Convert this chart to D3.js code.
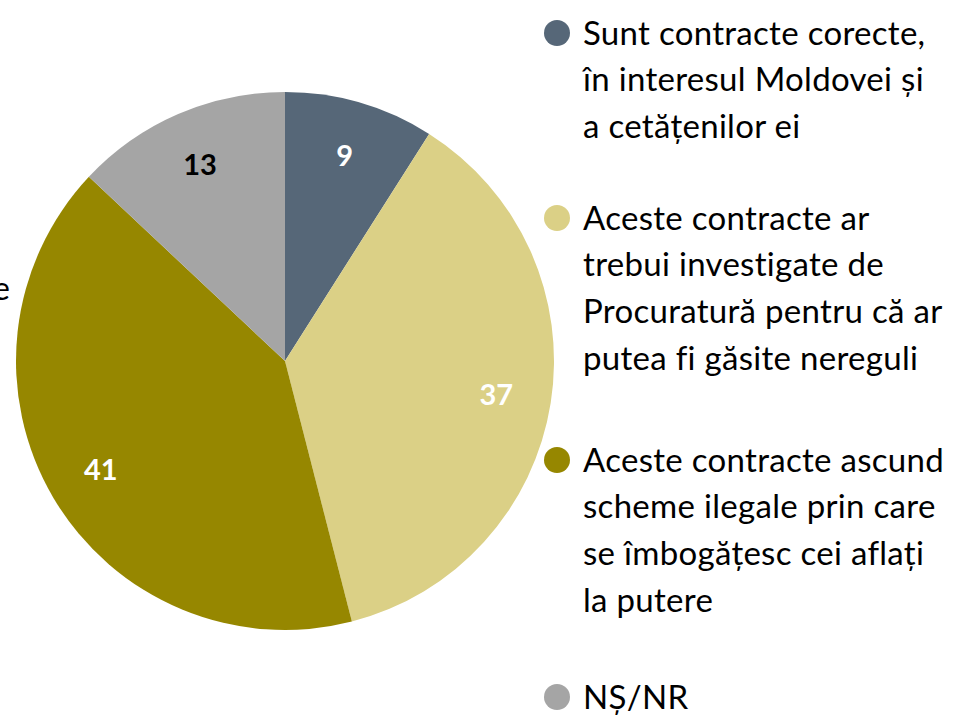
<!DOCTYPE html>
<html>
<head>
<meta charset="utf-8">
<script src="https://cdn.jsdelivr.net/npm/d3@7"></script>
<style>
  body { margin: 0; background: #fff; }
  svg { display: block; }
  text { font-family: Lato, "Open Sans", sans-serif; }
</style>
</head>
<body>
<div id="chart"></div>
<script>
// data
var categories = [
  "Sunt contracte corecte, în interesul Moldovei și a cetățenilor ei",
  "Aceste contracte ar trebui investigate de Procuratură pentru că ar putea fi găsite nereguli",
  "Aceste contracte ascund scheme ilegale prin care se îmbogățesc cei aflați la putere",
  "NȘ/NR"
];
var values = [9, 37, 41, 13];
var colors = ["#566778", "#dbd086", "#968700", "#a5a5a5"];
var labelColors = ["#fff", "#fff", "#fff", "#000"];
// legend text broken in lines as in the picture
var legendLines = [
  ["Sunt contracte corecte,", "în interesul Moldovei și", "a cetățenilor ei"],
  ["Aceste contracte ar", "trebui investigate de", "Procuratură pentru că ar", "putea fi găsite nereguli"],
  ["Aceste contracte ascund", "scheme ilegale prin care", "se îmbogățesc cei aflați", "la putere"],
  ["NȘ/NR"]
];
var legendTop = [33, 218, 460, 697];

var width = 959, height = 715;
var cx = 285, cy = 361, radius = 269;

var svg = d3.select("#chart")
  .append("svg")
    .attr("width", width)
    .attr("height", height);

// clipped label remnant on the left edge
svg.append("text")
  .attr("x", 10)
  .attr("y", 300)
  .attr("text-anchor", "end")
  .style("font-size", "32px")
  .style("fill", "#000")
  .text("e");

var pie = d3.pie()
  .sort(null)
  .value(function(d) { return d; });

var arc = d3.arc()
  .innerRadius(0)
  .outerRadius(radius);

var labelArc = d3.arc()
  .innerRadius(214)
  .outerRadius(214);

var g = svg.append("g")
  .attr("transform", "translate(" + cx + "," + cy + ")");

var arcs = pie(values);

g.selectAll("path")
  .data(arcs)
  .enter()
  .append("path")
    .attr("d", arc)
    .style("fill", function(d, i) { return colors[i]; });

g.selectAll("text.val")
  .data(arcs)
  .enter()
  .append("text")
    .attr("class", "val")
    .attr("transform", function(d) { return "translate(" + labelArc.centroid(d) + ")"; })
    .attr("text-anchor", "middle")
    .attr("dy", "0.35em")
    .style("font-size", "29px")
    .style("font-weight", "bold")
    .style("fill", function(d, i) { return labelColors[i]; })
    .text(function(d) { return d.data; });

// legend
var lineHeight = 46.8;
var legend = svg.selectAll("g.legend")
  .data(categories)
  .enter()
  .append("g")
    .attr("class", "legend")
    .attr("transform", function(d, i) { return "translate(557," + legendTop[i] + ")"; });

legend.append("circle")
  .attr("r", 13)
  .style("fill", function(d, i) { return colors[i]; });

legend.each(function(d, i) {
  var t = d3.select(this).append("text")
    .attr("x", 26)
    .attr("y", 0)
    .style("font-size", "33px")
    .style("letter-spacing", "0.3px")
    .style("fill", "#000");
  legendLines[i].forEach(function(line, j) {
    t.append("tspan")
      .attr("x", 26)
      .attr("y", j * lineHeight)
      .attr("dy", "0.35em")
      .text(line);
  });
});
</script>
</body>
</html>
